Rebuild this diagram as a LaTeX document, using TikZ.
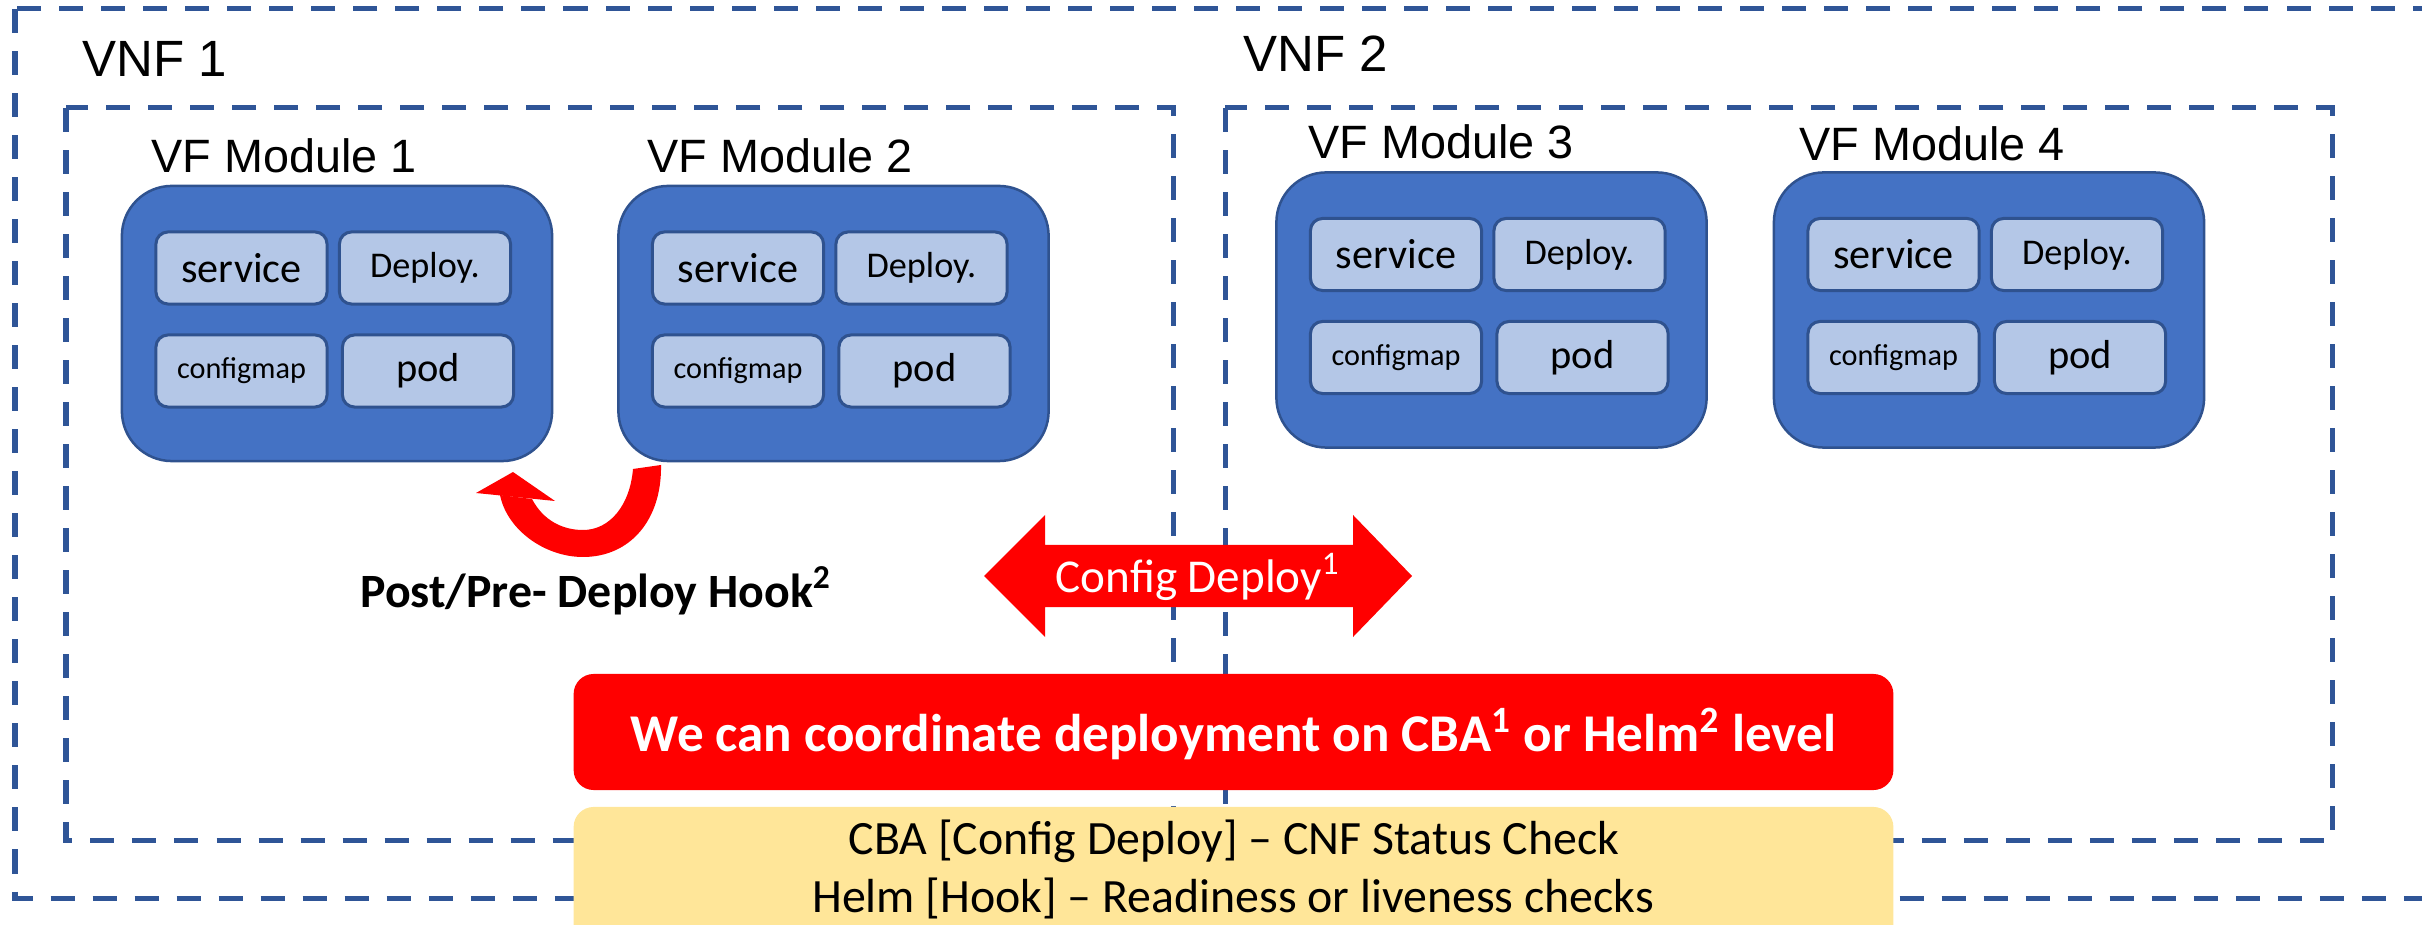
\documentclass[tikz,border=0pt]{standalone}
\usepackage{fontspec}
\setmainfont{Carlito}
\newfontfamily\arialfont{Liberation Sans}
\definecolor{dashblue}{HTML}{2F5597}
\definecolor{modfill}{HTML}{4472C4}
\definecolor{modedge}{HTML}{2F528F}
\definecolor{cellfill}{HTML}{B4C7E7}
\definecolor{notefill}{HTML}{FFE699}
\definecolor{alertred}{HTML}{FF0000}
\begin{document}
\begin{tikzpicture}[x=0.01cm,y=-0.01cm,
  frame/.style={draw=dashblue,line width=0.05cm,dash pattern=on 0.24cm off 0.18cm},
  module/.style={draw=modedge,fill=modfill,line width=0.025cm,rounded corners=0.5cm,minimum width=4.3cm,minimum height=2.75cm,inner sep=0pt},
  cell/.style={draw=modedge,fill=cellfill,line width=0.03cm,rounded corners=0.12cm,minimum width=1.71cm,minimum height=0.72cm,inner sep=0pt,text=black},
  vlabel/.style={anchor=base west,inner sep=0pt,font=\arialfont\fontsize{14.5pt}{14.5pt}\selectfont},
  mlabel/.style={anchor=base west,inner sep=0pt,font=\arialfont\fontsize{13.3pt}{13.3pt}\selectfont},
  txt/.style={anchor=base,inner sep=0pt},
]
\useasboundingbox (0,0) rectangle (2422,925);
% dashed frames
\draw[frame] (15,9) rectangle (2480,898);
\draw[frame] (66,108) rectangle (1173,840);
\draw[frame] (1225,108) rectangle (2332,840);
% labels
\node[vlabel] (vnf1) at (82,77) {VNF 1};
\node[vlabel] (vnf2) at (1243,72) {VNF 2};
\node[mlabel] (m1l) at (151,173) {VF Module 1};
\node[mlabel] (m2l) at (647,173) {VF Module 2};
\node[mlabel] (m3l) at (1308,159) {VF Module 3};
\node[mlabel] (m4l) at (1799,161) {VF Module 4};
% modules
\foreach \n/\cx/\cy in {1/337/323.5, 2/833.5/323.5, 3/1491.5/310, 4/1989/310} {
  \node[module] (mod\n) at (\cx,\cy) {};
  \node[cell,font=\fontsize{12pt}{12pt}\selectfont] (svc\n) at (\cx-95.5,\cy-55.5) {service};
  \node[cell,font=\fontsize{10.3pt}{10.3pt}\selectfont] (dep\n) at (\cx+88,\cy-55.5) {Deploy.};
  \node[cell,font=\fontsize{8.6pt}{8.6pt}\selectfont] (cfg\n) at (\cx-95.5,\cy+47.5) {configmap};
  \node[cell,font=\fontsize{11.5pt}{11.5pt}\selectfont] (pod\n) at (\cx+91,\cy+47.5) {pod};
}
% hook arrow
\fill[alertred] (661,465) .. controls (662,520) and (630,557) .. (583,557)
  .. controls (545,557) and (507,530) .. (500,495) -- (532,499)
  .. controls (543,520) and (562,530) .. (583,530)
  .. controls (610,530) and (630,505) .. (633,469) -- cycle;
\fill[alertred] (476,493) -- (513,472) -- (555,501) -- cycle;
\node[txt,font=\bfseries\fontsize{13.6pt}{13.6pt}\selectfont] (hooktxt) at (596,607) {Post/Pre- Deploy Hook\textsuperscript{2}};
% double arrow
\fill[alertred] (984,576) -- (1045,515) -- (1045,545) -- (1353,545) -- (1353,515) -- (1412,576)
  -- (1353,637) -- (1353,607) -- (1045,607) -- (1045,637) -- cycle;
\node[txt,text=white,font=\fontsize{13.4pt}{13.4pt}\selectfont] (cfgtxt) at (1198,593) {Config Deploy\textsuperscript{1}};
% banner
\node[fill=alertred,rounded corners=0.2cm,minimum width=13.19cm,minimum height=1.16cm,inner sep=0pt] (banner) at (1233.5,732) {};
\node[txt,text=white,font=\bfseries\fontsize{15.1pt}{15.1pt}\selectfont] (bannertxt) at (1233.5,751) {We can coordinate deployment on CBA\textsuperscript{1} or Helm\textsuperscript{2} level};
% note
\node[fill=notefill,rounded corners=0.2cm,minimum width=13.19cm,minimum height=1.5cm,inner sep=0pt] (note) at (1233.5,882) {};
\node[txt,font=\fontsize{13.6pt}{13.6pt}\selectfont] (note1) at (1234,854) {CBA [Config Deploy] – CNF Status Check};
\node[txt,font=\fontsize{13.6pt}{13.6pt}\selectfont] (note2) at (1233,912) {Helm [Hook] – Readiness or liveness checks};
\end{tikzpicture}
\end{document}
